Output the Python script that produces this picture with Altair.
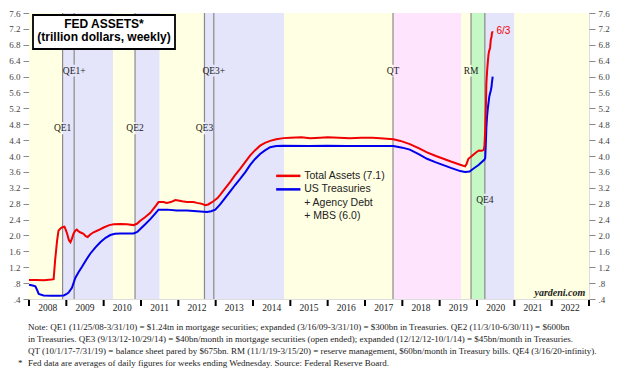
import altair as alt
import pandas as pd

# ---------------- data ----------------
red_years = [2008.00, 2008.20, 2008.40, 2008.60, 2008.66, 2008.70, 2008.75, 2008.79, 2008.85, 2008.88,
             2008.95, 2008.98, 2009.02, 2009.07, 2009.11, 2009.15, 2009.19, 2009.24, 2009.28, 2009.33,
             2009.37, 2009.46, 2009.52, 2009.57, 2009.65, 2009.73, 2009.85, 2010.00, 2010.15, 2010.27,
             2010.45, 2010.62, 2010.80, 2010.90, 2010.98, 2011.10, 2011.25, 2011.40, 2011.47, 2011.60,
             2011.69, 2011.80, 2011.92, 2012.00, 2012.10, 2012.23, 2012.40, 2012.50, 2012.62, 2012.72,
             2012.80, 2012.94, 2013.05, 2013.12, 2013.25, 2013.39, 2013.52, 2013.66, 2013.80, 2013.92,
             2014.05, 2014.19, 2014.32, 2014.46, 2014.62, 2014.82, 2015.00, 2015.30, 2015.53, 2015.80,
             2016.00, 2016.30, 2016.60, 2016.90, 2017.20, 2017.50, 2017.76, 2017.95, 2018.20, 2018.45,
             2018.66, 2018.90, 2019.10, 2019.30, 2019.55, 2019.68, 2019.72, 2019.77, 2019.84, 2019.90,
             2019.99, 2020.05, 2020.12, 2020.18, 2020.20, 2020.22, 2020.24, 2020.25, 2020.27, 2020.29,
             2020.31, 2020.33, 2020.35, 2020.37, 2020.39, 2020.40, 2020.42]
red_values = [0.88, 0.88, 0.87, 0.89, 0.90, 1.38, 1.85, 2.12, 2.18, 2.20,
              2.22, 2.15, 2.05, 1.88, 1.83, 1.92, 2.04, 2.12, 2.15, 2.10,
              2.08, 2.04, 1.98, 1.96, 2.03, 2.08, 2.13, 2.20, 2.26, 2.28,
              2.29, 2.28, 2.26, 2.30, 2.37, 2.45, 2.57, 2.75, 2.84, 2.84,
              2.82, 2.84, 2.89, 2.88, 2.86, 2.84, 2.84, 2.82, 2.80, 2.76,
              2.78, 2.86, 2.94, 3.02, 3.18, 3.35, 3.52, 3.68, 3.86, 4.01,
              4.14, 4.26, 4.33, 4.38, 4.42, 4.45, 4.46, 4.47, 4.45, 4.46,
              4.47, 4.46, 4.45, 4.46, 4.46, 4.44, 4.42, 4.38, 4.30, 4.19,
              4.09, 4.00, 3.93, 3.86, 3.78, 3.74, 3.80, 3.93, 3.98, 4.03,
              4.10, 4.14, 4.13, 4.15, 4.26, 4.67, 5.30, 5.81, 6.13, 6.37,
              6.57, 6.66, 6.72, 6.93, 7.00, 7.09, 7.14]

blue_years = [2008.00, 2008.10, 2008.17, 2008.22, 2008.26, 2008.39, 2008.60, 2008.80, 2008.93, 2009.00,
              2009.06, 2009.15, 2009.24, 2009.33, 2009.42, 2009.53, 2009.64, 2009.78, 2009.91, 2010.05,
              2010.18, 2010.30, 2010.44, 2010.62, 2010.80, 2010.90, 2010.98, 2011.10, 2011.25, 2011.38,
              2011.47, 2011.70, 2011.96, 2012.23, 2012.50, 2012.77, 2012.88, 2012.99, 2013.12, 2013.25,
              2013.39, 2013.52, 2013.66, 2013.80, 2013.92, 2014.05, 2014.19, 2014.32, 2014.46, 2014.62,
              2014.82, 2015.50, 2016.00, 2016.50, 2017.00, 2017.50, 2017.76, 2018.00, 2018.20, 2018.45,
              2018.66, 2018.90, 2019.10, 2019.30, 2019.55, 2019.68, 2019.80, 2019.90, 2020.05, 2020.20,
              2020.22, 2020.24, 2020.25, 2020.27, 2020.29, 2020.31, 2020.33, 2020.35, 2020.37, 2020.39,
              2020.40, 2020.42]
blue_values = [0.76, 0.74, 0.72, 0.62, 0.53, 0.49, 0.48, 0.48, 0.49, 0.52,
               0.56, 0.68, 0.93, 1.08, 1.21, 1.38, 1.54, 1.70, 1.83, 1.94,
               2.01, 2.04, 2.05, 2.05, 2.05, 2.09, 2.16, 2.27, 2.41, 2.55,
               2.65, 2.65, 2.63, 2.63, 2.61, 2.59, 2.61, 2.65, 2.78, 2.94,
               3.11, 3.27, 3.43, 3.60, 3.77, 3.92, 4.05, 4.14, 4.22, 4.25,
               4.26, 4.25, 4.26, 4.25, 4.25, 4.25, 4.25, 4.21, 4.16, 4.04,
               3.93, 3.84, 3.77, 3.70, 3.62, 3.60, 3.61, 3.68, 3.78, 3.91,
               3.95, 4.40, 4.70, 5.00, 5.20, 5.35, 5.50, 5.58, 5.65, 5.75,
               5.85, 6.00]

band_start = [2008.0, 2008.90, 2010.25, 2010.84, 2011.50, 2012.70, 2014.83, 2017.75, 2019.58, 2019.84, 2020.21, 2021.0]
band_end = [2008.90, 2010.25, 2010.84, 2011.50, 2012.70, 2014.83, 2017.75, 2019.58, 2019.84, 2020.21, 2021.0, 2023.0]
band_kind = ["none", "qe", "none", "qe", "none", "qe", "none", "qt", "none", "rm", "qe", "none"]

event_names = ["QE1", "QE1+", "QE2", "QE3", "QE3+", "QT", "RM", "QE4"]
event_years = [2008.90, 2009.21, 2010.84, 2012.70, 2012.95, 2017.75, 2019.84, 2020.21]
event_label_at = [4.7, 6.15, 4.7, 4.7, 6.15, 6.15, 6.15, 2.9]

y_ticks = [round(0.4 + 0.4 * i, 1) for i in range(19)]
year_ticks = list(range(2008, 2024))
year_labels = list(range(2008, 2023))

legend_labels = ["Total Assets (7.1)", "US Treasuries", "+ Agency Debt", "+ MBS (6.0)"]

notes = [
    "Note: QE1 (11/25/08-3/31/10) = $1.24tn in mortgage securities; expanded (3/16/09-3/31/10) = $300bn in Treasuries. QE2 (11/3/10-6/30/11) = $600bn",
    "in Treasuries. QE3 (9/13/12-10/29/14) = $40bn/month in mortgage securities (open ended); expanded (12/12/12-10/1/14) = $45bn/month in Treasuries.",
    "QT (10/1/17-7/31/19) = balance sheet pared by $675bn. RM (11/1/19-3/15/20) = reserve management, $60bn/month in Treasury bills. QE4 (3/16/20-infinity).",
]
star_note = "Fed data are averages of daily figures for weeks ending Wednesday. Source: Federal Reserve Board."

# ---------------- tables ----------------
df_red = pd.DataFrame({"year": red_years, "value": red_values})
df_blue = pd.DataFrame({"year": blue_years, "value": blue_values})
df_bands = pd.DataFrame({"start": band_start, "end": band_end, "kind": band_kind})

seg_rows = []
for n, yr, ly in zip(event_names, event_years, event_label_at):
    seg_rows.append({"x": yr, "y1": 0.4, "y2": ly - 0.15})
    seg_rows.append({"x": yr, "y1": ly + 0.15, "y2": 7.6})
df_segs = pd.DataFrame(seg_rows)
df_events = pd.DataFrame({"name": event_names, "x": event_years, "y": event_label_at})
df_yticks = pd.DataFrame({"year": year_ticks})
df_ylabels = pd.DataFrame({"year": year_labels})

SERIF = "Liberation Serif"
SANS = "Liberation Sans"

xscale = alt.Scale(domain=[2008, 2023], nice=False, zero=False)
yscale = alt.Scale(domain=[0.4, 7.6], nice=False, zero=False)

y_label_expr = "datum.value < 1 ? substring(format(datum.value, '.1f'), 1) : format(datum.value, '.1f')"

def y_axis(orient):
    return alt.Axis(values=y_ticks, labelExpr=y_label_expr, orient=orient, tickSize=6, tickColor="#888",
                    labelFont=SERIF, labelFontSize=9, labelColor="#444", domain=False, grid=False,
                    title=None, labelPadding=3, labelFlush=False, labelOverlap=False)

band_colors = alt.Scale(domain=["none", "qe", "qt", "rm"],
                        range=["#ffffe3", "#e4e4fa", "#ffe4fd", "#c6f8c6"])

bands = alt.Chart(df_bands).mark_rect().encode(
    x=alt.X("start:Q", scale=xscale, axis=None),
    x2="end:Q",
    color=alt.Color("kind:N", scale=band_colors, legend=None),
)

segs = alt.Chart(df_segs).mark_rule(color="#8a8a8a", strokeWidth=1.2).encode(
    x=alt.X("x:Q", scale=xscale, axis=None),
    y=alt.Y("y1:Q", scale=yscale, axis=y_axis("right")),
    y2="y2:Q",
)

ev_labels = alt.Chart(df_events).mark_text(font=SERIF, fontSize=9.5, color="#222").encode(
    x=alt.X("x:Q", scale=xscale, axis=None),
    y=alt.Y("y:Q", scale=yscale, axis=None),
    text="name:N",
)

blue_line = alt.Chart(df_blue).mark_line(color="#0000ee", strokeWidth=2).encode(
    x=alt.X("year:Q", scale=xscale, axis=None),
    y=alt.Y("value:Q", scale=yscale, axis=y_axis("left")),
)
red_line = alt.Chart(df_red).mark_line(color="#f00000", strokeWidth=2).encode(
    x=alt.X("year:Q", scale=xscale, axis=None),
    y=alt.Y("value:Q", scale=yscale, axis=None),
)

# x axis (ticks at year boundaries, labels centred in each year)
x_ticks_layer = alt.Chart(df_yticks).mark_rule(color="black", strokeWidth=2).encode(
    x=alt.X("year:Q", scale=xscale, axis=None),
    y=alt.value(287), y2=alt.value(293),
)
x_labels_layer = alt.Chart(df_ylabels).transform_calculate(mid="datum.year + 0.5").mark_text(
    font=SERIF, fontSize=9.5, color="#222", baseline="middle").encode(
    x=alt.X("mid:Q", scale=xscale, axis=None),
    y=alt.value(294.5),
    text=alt.Text("year:Q", format="d"),
)

# legend (inside plot)
df_leg_red = pd.DataFrame({"x1": [2014.62], "x2": [2015.27], "y": [3.5]})
df_leg_blue = pd.DataFrame({"x1": [2014.62], "x2": [2015.27], "y": [3.16]})
leg_red = alt.Chart(df_leg_red).mark_rule(strokeWidth=2.5, color="#f00000").encode(
    x=alt.X("x1:Q", scale=xscale, axis=None), x2="x2:Q",
    y=alt.Y("y:Q", scale=yscale, axis=None),
)
leg_blue = alt.Chart(df_leg_blue).mark_rule(strokeWidth=2.5, color="#0000ee").encode(
    x=alt.X("x1:Q", scale=xscale, axis=None), x2="x2:Q",
    y=alt.Y("y:Q", scale=yscale, axis=None),
)
df_leg_text = pd.DataFrame({"x": [2015.37] * 4, "y": [3.5, 3.16, 2.82, 2.48], "t": legend_labels})
leg_text = alt.Chart(df_leg_text).mark_text(font=SANS, fontSize=10.5, align="left", color="#222").encode(
    x=alt.X("x:Q", scale=xscale, axis=None),
    y=alt.Y("y:Q", scale=yscale, axis=None),
    text="t:N",
)

# end label and watermark
df_end = pd.DataFrame({"x": [2020.52], "y": [7.14], "t": ["6/3"]})
end_label = alt.Chart(df_end).mark_text(font=SANS, fontSize=10, align="left", color="#f00000").encode(
    x=alt.X("x:Q", scale=xscale, axis=None), y=alt.Y("y:Q", scale=yscale, axis=None), text="t:N")

df_wm = pd.DataFrame({"x": [2022.9], "y": [0.55], "t": ["yardeni.com"]})
watermark = alt.Chart(df_wm).mark_text(font=SERIF, fontSize=10, fontStyle="italic", fontWeight="bold",
                                       align="right", color="#222").encode(
    x=alt.X("x:Q", scale=xscale, axis=None), y=alt.Y("y:Q", scale=yscale, axis=None), text="t:N")

# title box
one = pd.DataFrame({"a": [0]})
title_box = alt.Chart(one).mark_rect(fill="white", stroke="black", strokeWidth=1.8).encode(
    x=alt.value(4), x2=alt.value(146), y=alt.value(2), y2=alt.value(36))
title_1 = alt.Chart(one).mark_text(text="FED ASSETS*", font=SANS, fontSize=12, fontWeight="bold",
                                   color="black").encode(x=alt.value(75), y=alt.value(11))
title_2 = alt.Chart(one).mark_text(text="(trillion dollars, weekly)", font=SANS, fontSize=12,
                                   fontWeight="bold", color="black").encode(x=alt.value(75), y=alt.value(24))

# footnotes
notes_text = alt.Chart(one).mark_text(text=notes, font=SERIF, fontSize=9, align="left", baseline="top",
                                      lineHeight=11.8, color="#222").encode(x=alt.value(-1), y=alt.value(310))
star_text = alt.Chart(one).mark_text(text="*", font=SERIF, fontSize=9, align="left", baseline="top",
                                     color="#222").encode(x=alt.value(-11), y=alt.value(345.5))
star_note_text = alt.Chart(one).mark_text(text=star_note, font=SERIF, fontSize=9, align="left",
                                          baseline="top", color="#222").encode(x=alt.value(-1), y=alt.value(345.5))

chart = alt.layer(
    bands, segs, ev_labels, blue_line, red_line, leg_red, leg_blue, leg_text, end_label, watermark,
    title_box, title_1, title_2, x_ticks_layer, x_labels_layer, notes_text, star_text, star_note_text,
).resolve_axis(y="independent").properties(
    width=560, height=286,
    padding={"left": 21, "top": 5, "right": 43, "bottom": 70},
    autosize=alt.AutoSizeParams(type="none"),
).configure_view(stroke="black", strokeWidth=2).configure(background="white")

chart.save("out.html", embed_options={"renderer": "svg", "actions": False})
